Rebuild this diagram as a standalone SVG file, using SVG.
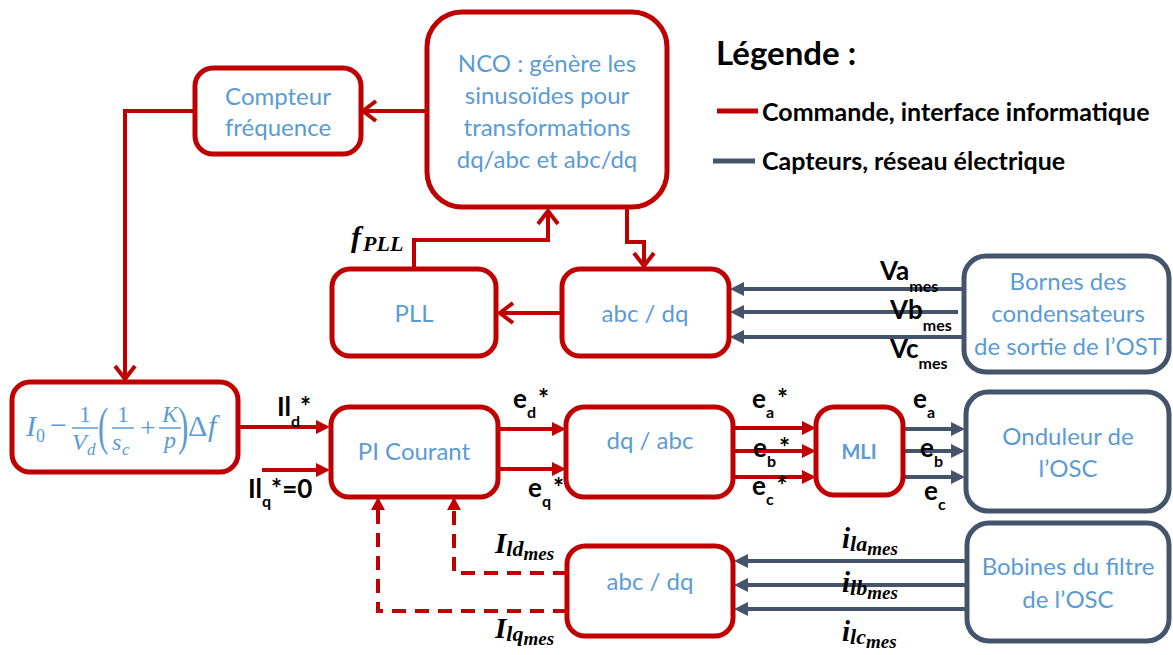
<svg xmlns="http://www.w3.org/2000/svg" width="1173" height="655" viewBox="0 0 1173 655">
<style>
.rb{fill:#fff;stroke:#C00000;stroke-width:5}
.gb{fill:#fff;stroke:#44546A;stroke-width:5}
.bt{font-family:Lato,"Liberation Sans",sans-serif;font-size:24px;fill:#5B9BD5;text-anchor:middle}
.rl{fill:none;stroke:#C00000;stroke-width:4}
.gl{fill:none;stroke:#44546A;stroke-width:4}
.dl{fill:none;stroke:#C00000;stroke-width:4;stroke-dasharray:14 9}
.lb{font-family:Lato,"Liberation Sans",sans-serif;font-weight:bold;font-size:26px;fill:#000}
.sb{font-size:16px}
.mt{font-family:"Liberation Serif","DejaVu Serif",serif;font-weight:bold;font-style:italic;fill:#000}
.fm{font-family:"Liberation Serif","DejaVu Serif",serif;fill:#5B9BD5}
.it{font-style:italic}
</style>
<defs>
<marker id="af" viewBox="0 0 14 14" refX="10" refY="7" markerWidth="14" markerHeight="14" orient="auto" markerUnits="userSpaceOnUse"><path d="M0,0 L14,7 L0,14 z" fill="#C00000"/></marker>
<marker id="ag" viewBox="0 0 14 14" refX="10" refY="7" markerWidth="14" markerHeight="14" orient="auto" markerUnits="userSpaceOnUse"><path d="M0,0 L14,7 L0,14 z" fill="#44546A"/></marker>
<marker id="ao" viewBox="-3 -3 18 26" refX="13" refY="10" markerWidth="18" markerHeight="26" orient="auto" markerUnits="userSpaceOnUse" overflow="visible"><path d="M0,0 L13,10 L0,20" fill="none" stroke="#C00000" stroke-width="4"/></marker>
</defs>

<g id="connectors">
<path class="rl" d="M427,111 H363" marker-end="url(#ao)"/>
<path class="rl" d="M195,111 H125 V379" marker-end="url(#ao)"/>
<path class="rl" d="M238,427 H326" marker-end="url(#af)"/>
<path class="rl" d="M262,470 H326" marker-end="url(#af)"/>
<path class="rl" d="M499,429 H562" marker-end="url(#af)"/>
<path class="rl" d="M499,469 H562" marker-end="url(#af)"/>
<path class="rl" d="M733,428 H812" marker-end="url(#af)"/>
<path class="rl" d="M733,451 H812" marker-end="url(#af)"/>
<path class="rl" d="M733,477 H812" marker-end="url(#af)"/>
<path class="gl" d="M904,429 H961" marker-end="url(#ag)"/>
<path class="gl" d="M904,451 H961" marker-end="url(#ag)"/>
<path class="gl" d="M904,477 H961" marker-end="url(#ag)"/>
<path class="gl" d="M967,561 H738" marker-end="url(#ag)"/>
<path class="gl" d="M967,585 H738" marker-end="url(#ag)"/>
<path class="gl" d="M967,609 H738" marker-end="url(#ag)"/>
<path class="gl" d="M964,289 H734" marker-end="url(#ag)"/>
<path class="gl" d="M958,312 H734" marker-end="url(#ag)"/>
<path class="gl" d="M964,337 H734" marker-end="url(#ag)"/>
<path class="dl" d="M567,573 H454 V503"/>
<path class="dl" d="M567,611 H378 V503"/>
<path d="M447,510 L454,497 L461,510 z" fill="#C00000"/>
<path d="M371,510 L378,497 L385,510 z" fill="#C00000"/>
<path class="rl" d="M562,313 H500" marker-end="url(#ao)"/>
<path class="rl" d="M414,268 V240 H548 V211" marker-end="url(#ao)"/>
<path class="rl" d="M627,208 V242 H644 V266" marker-end="url(#ao)"/>
</g>

<g id="compteur">
<rect class="rb" x="195" y="68" width="166" height="86" rx="18"/>
<text class="bt" x="278" y="105">Compteur</text>
<text class="bt" x="278" y="136">fréquence</text>
</g>

<g id="nco">
<rect class="rb" x="427" y="12" width="240" height="195" rx="35"/>
<text class="bt" x="547" y="72">NCO : génère les</text>
<text class="bt" x="547" y="104">sinusoïdes pour</text>
<text class="bt" x="547" y="136">transformations</text>
<text class="bt" x="547" y="168">dq/abc et abc/dq</text>
</g>

<g id="formule">
<rect class="rb" x="12" y="382" width="226" height="90" rx="18"/>
<text class="fm it" x="26" y="436" font-size="30">I</text>
<text class="fm" x="36" y="442" font-size="18">0</text>
<text class="fm" x="50" y="435" font-size="30">−</text>
<text class="fm" x="85" y="422" font-size="23" text-anchor="middle">1</text>
<line x1="72" y1="428" x2="98" y2="428" stroke="#5B9BD5" stroke-width="1.5"/>
<text class="fm it" x="72" y="450" font-size="24">V</text>
<text class="fm it" x="87" y="455" font-size="17">d</text>
<text class="fm" font-size="31" transform="translate(98,444) scale(1,1.7)">(</text>
<text class="fm" x="123" y="422" font-size="23" text-anchor="middle">1</text>
<line x1="112" y1="428" x2="134" y2="428" stroke="#5B9BD5" stroke-width="1.5"/>
<text class="fm it" x="112" y="450" font-size="24">s</text>
<text class="fm it" x="122" y="455" font-size="17">c</text>
<text class="fm" x="148" y="437" font-size="28" text-anchor="middle">+</text>
<text class="fm it" x="170" y="422" font-size="23" text-anchor="middle">K</text>
<line x1="159" y1="428" x2="181" y2="428" stroke="#5B9BD5" stroke-width="1.5"/>
<text class="fm it" x="170" y="448" font-size="24" text-anchor="middle">p</text>
<text class="fm" font-size="31" transform="translate(178,444) scale(1,1.7)">)</text>
<text class="fm" x="188" y="436" font-size="30">Δ</text>
<text class="fm it" x="208" y="436" font-size="30">f</text>
</g>

<g id="pi">
<rect class="rb" x="331" y="407" width="167" height="90" rx="18"/>
<text class="bt" x="414" y="460">PI Courant</text>
</g>

<g id="dqabc">
<rect class="rb" x="566" y="407" width="167" height="90" rx="18"/>
<text class="bt" x="650" y="449">dq / abc</text>
</g>

<g id="mli">
<rect class="rb" x="816" y="407" width="87" height="88" rx="18"/>
<text class="bt" x="859" y="459" style="font-weight:bold;font-size:20px">MLI</text>
</g>

<g id="pll">
<rect class="rb" x="332" y="269" width="164" height="87" rx="18"/>
<text class="bt" x="414" y="322">PLL</text>
</g>

<g id="abcdq1">
<rect class="rb" x="562" y="269" width="167" height="87" rx="18"/>
<text class="bt" x="645" y="322">abc / dq</text>
</g>

<g id="abcdq2">
<rect class="rb" x="567" y="546" width="166" height="90" rx="18"/>
<text class="bt" x="650" y="590">abc / dq</text>
</g>

<g id="bornes">
<rect class="gb" x="964" y="256" width="205" height="116" rx="22"/>
<text class="bt" x="1068" y="290">Bornes des</text>
<text class="bt" x="1068" y="322">condensateurs</text>
<text class="bt" x="1068" y="355">de sortie de l’OST</text>
</g>

<g id="onduleur">
<rect class="gb" x="966" y="392" width="203" height="119" rx="22"/>
<text class="bt" x="1068" y="445">Onduleur de</text>
<text class="bt" x="1068" y="477">l’OSC</text>
</g>

<g id="bobines">
<rect class="gb" x="967" y="523" width="202" height="118" rx="22"/>
<text class="bt" x="1068" y="575">Bobines du filtre</text>
<text class="bt" x="1068" y="608">de l’OSC</text>
</g>

<g id="labels">
<text class="lb" x="277" y="416">Il<tspan class="sb" dy="11">d</tspan><tspan dy="-11">*</tspan></text>
<text class="lb" x="248" y="498">Il<tspan class="sb" dy="9">q</tspan><tspan dy="-9">*=0</tspan></text>
<text class="lb" x="513" y="408">e<tspan class="sb" dy="10">d</tspan><tspan dy="-10" dx="2">*</tspan></text>
<text class="lb" x="528" y="497">e<tspan class="sb" dy="10">q</tspan><tspan dy="-10" dx="2">*</tspan></text>
<text class="lb" x="752" y="408">e<tspan class="sb" dy="10">a</tspan><tspan dy="-10" dx="3">*</tspan></text>
<text class="lb" x="753" y="457">e<tspan class="sb" dy="10">b</tspan><tspan dy="-10" dx="3">*</tspan></text>
<text class="lb" x="752" y="495">e<tspan class="sb" dy="10">c</tspan><tspan dy="-10" dx="3">*</tspan></text>
<text class="lb" x="913" y="408">e<tspan class="sb" dy="10">a</tspan></text>
<text class="lb" x="920" y="457">e<tspan class="sb" dy="10">b</tspan></text>
<text class="lb" x="924" y="500">e<tspan class="sb" dy="10">c</tspan></text>
<text class="lb" x="880" y="280">Va<tspan class="sb" dy="12">mes</tspan></text>
<text class="lb" x="890" y="319">Vb<tspan class="sb" dy="12">mes</tspan></text>
<text class="lb" x="890" y="358">Vc<tspan class="sb" dy="11">mes</tspan></text>
<text class="mt" x="351" y="247" font-size="30">f<tspan font-size="22" dx="2" dy="4">PLL</tspan></text>
<text class="mt" x="495" y="553" font-size="29">I<tspan font-size="22" dy="3">ld</tspan><tspan font-size="19" dy="4">mes</tspan></text>
<text class="mt" x="495" y="638" font-size="29">I<tspan font-size="22" dy="3">lq</tspan><tspan font-size="19" dy="4">mes</tspan></text>
<text class="mt" x="842" y="548" font-size="29">i<tspan font-size="22" dy="3">la</tspan><tspan font-size="19" dy="4">mes</tspan></text>
<text class="mt" x="842" y="592" font-size="29">i<tspan font-size="22" dy="3">lb</tspan><tspan font-size="19" dy="4">mes</tspan></text>
<text class="mt" x="842" y="641" font-size="29">i<tspan font-size="22" dy="3">lc</tspan><tspan font-size="19" dy="4">mes</tspan></text>
</g>

<g id="legende">
<text class="lb" x="716" y="65" style="font-size:33px">Légende :</text>
<line x1="717" y1="111" x2="758" y2="111" stroke="#C00000" stroke-width="5"/>
<text class="lb" x="762" y="121" style="font-size:25px">Commande, interface informatique</text>
<line x1="713" y1="161" x2="755" y2="161" stroke="#44546A" stroke-width="5"/>
<text class="lb" x="762" y="170" style="font-size:25px">Capteurs, réseau électrique</text>
</g>
</svg>
